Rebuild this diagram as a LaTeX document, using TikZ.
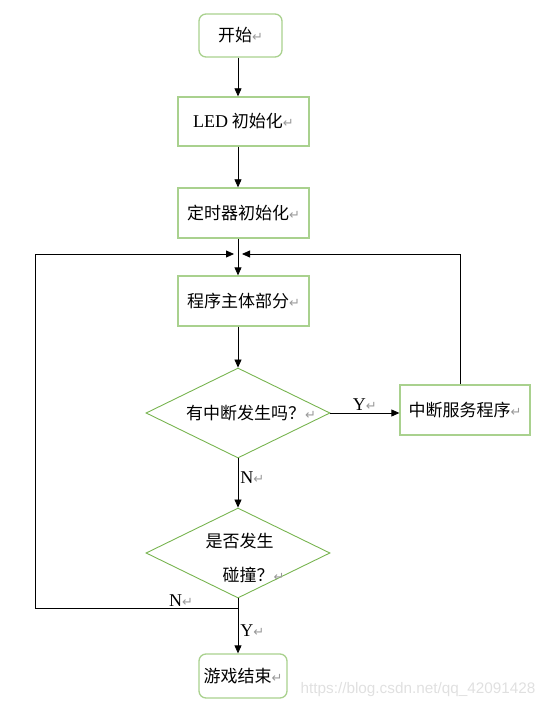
\documentclass[tikz,border=0pt]{standalone}
\usepackage{fontspec}
\setmainfont{Liberation Serif}
\newfontfamily\cjk{Noto Sans CJK SC}
\newfontfamily\latin{Liberation Serif}
\newfontfamily\symfont{DejaVu Sans}
\newfontfamily\urlfont{Liberation Sans}
\usetikzlibrary{arrows.meta,shapes.geometric,positioning}
\definecolor{boxgreen}{RGB}{169,209,142}
\definecolor{diagreen}{RGB}{120,180,80}
\newcommand{\retmark}{{\symfont\color{black!40}\fontsize{13}{13}\selectfont ↵}}

\begin{document}
\begin{tikzpicture}[x=1pt,y=-1pt,line width=0.8pt,>={Triangle[length=8pt,width=7pt]},
    font=\cjk\fontsize{17}{20}\selectfont]
  \tikzstyle{box}=[draw=boxgreen,line width=1.3pt,minimum width=131pt,minimum height=50pt,inner sep=0pt]
  \tikzstyle{term}=[box,rounded corners=7pt]
  \tikzstyle{decision}=[diamond,draw=diagreen,line width=0.9pt,minimum width=184pt,minimum height=90pt,inner sep=0pt]
  \tikzstyle{yn}=[font=\latin\fontsize{18}{20}\selectfont,inner sep=2pt]
  \useasboundingbox (0,0) rectangle (549,711);

  \node[term,minimum width=83pt,minimum height=43pt] (start) at (240.5,35.5) {开始\retmark};
  \node[box,minimum height=49pt] (led)   at (243.5,121.5) {{\latin\fontsize{18}{20}\selectfont LED} 初始化\retmark};
  \node[box]                     (timer) at (243.5,213)   {定时器初始化\retmark};
  \node[box]                     (prog)  at (243.5,301)   {程序主体部分\retmark};
  \node[decision,label={[xshift=13pt]center:有中断发生吗？\retmark}] (q1) at (238,413) {};
  \node[box,minimum width=130pt] (isr)   at (465,410)     {中断服务程序\retmark};
  \node[decision,label={[xshift=7pt,yshift=-5pt,align=left]center:是否发生\\[14pt]\hspace*{17pt}碰撞？\retmark}] (q2) at (238,553) {};
  \node[term,minimum width=88pt,minimum height=44pt] (stop) at (243,676) {游戏结束\retmark};
  \node[font=\urlfont\fontsize{15.3}{17}\selectfont,text=black!12] (mark) at (418,690) {https://blog.csdn.net/qq\_42091428};

  \coordinate (join)   at (238,254);
  \coordinate (corner) at (35,254);
  \coordinate (split)  at (238,608);

  \draw[->] (start.south -| join) -- (led.north -| join);
  \draw[->] (led.south -| join) -- (timer.north -| join);
  \draw[->] (timer.south -| join) -- (prog.north -| join);
  \draw[->] (prog.south -| join) -- (q1.north);
  \draw[->] (q1.east) -- node[yn,above]{Y\retmark} (isr.west |- q1.east);
  \draw[->] (q1.south) -- node[yn,right,pos=0.4]{N\retmark} (q2.north);
  \draw[->] ([xshift=-5pt]isr.north) |- ([xshift=4pt]join);
  \draw (q2.south) -- (split);
  \draw[->] (split) -- node[yn,above,pos=0.28,inner sep=1pt]{N\retmark} (split -| corner) -- (corner) -- ([xshift=-4pt]join);
  \draw[->] (split) -- node[yn,right,pos=0.5]{Y\retmark} (split |- stop.north);
\end{tikzpicture}
\end{document}
